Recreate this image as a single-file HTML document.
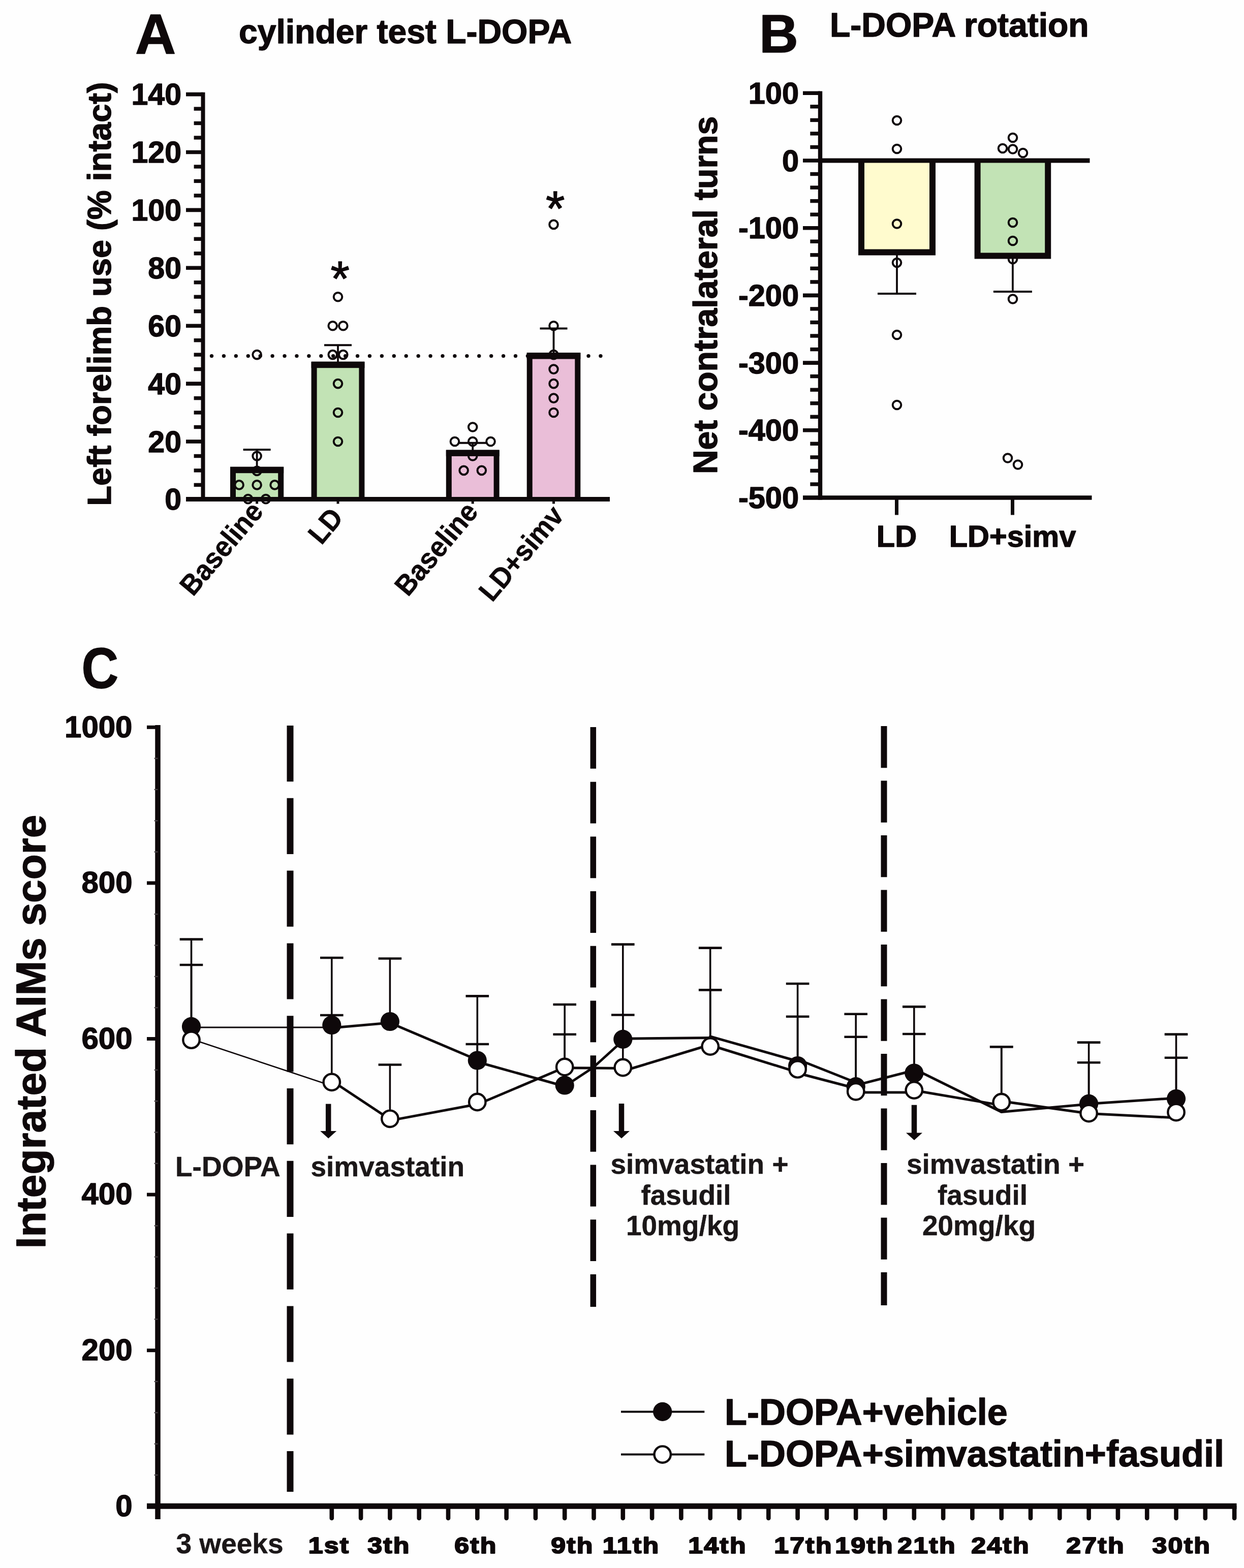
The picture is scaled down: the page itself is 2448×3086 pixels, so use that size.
<!DOCTYPE html>
<html lang="en">
<head>
<meta charset="utf-8">
<title>Figure: cylinder test, L-DOPA rotation, integrated AIMs score</title>
<style>
html,body{margin:0;padding:0;background:#fefefe;}
body{width:2448px;height:3086px;overflow:hidden;}
svg{display:block;}
svg text{font-family:"Liberation Sans",Arial,Helvetica,sans-serif;font-weight:bold;fill:#0e080a;stroke:#0e080a;stroke-width:1.4px;stroke-linejoin:round;}
svg text.ns{stroke-width:0.6px;}
svg text.ast{font-weight:normal;stroke-width:1.4px;}
svg text.hv{stroke-width:2.2px;letter-spacing:2px;}
svg text.an{fill:#1b1718;stroke:#1b1718;stroke-width:0.5px;}
svg line, svg polyline{stroke:#0e080a;}
svg .bb{fill:none;stroke:#0e080a;}
svg polyline.ser{fill:none;stroke-width:5;stroke-linejoin:round;}
svg circle.pt{fill:none;stroke:#0e080a;stroke-width:4;}
svg circle.fm{fill:#0e080a;stroke:none;}
svg circle.om{fill:#fff;stroke:#0e080a;stroke-width:4.4;}
</style>
</head>
<body>
<svg width="2448" height="3086" viewBox="0 0 2448 3086">
<rect x="0" y="0" width="2448" height="3086" fill="#fefefe" stroke="none"/>
<g id="panelA">
<text x="266" y="106" font-size="111">A</text>
<text x="470" y="84.5" font-size="66">cylinder test L-DOPA</text>
<text transform="translate(218,578.5) rotate(-90)" font-size="65" text-anchor="middle">Left forelimb use (% intact)</text>
<rect x="458.5" y="924.1" width="94.2" height="58.4" fill="#c2e3b5" stroke="none"/>
<rect x="618.1" y="717.1" width="93.8" height="265.4" fill="#c2e3b5" stroke="none"/>
<rect x="883.3" y="890.8" width="93.8" height="91.7" fill="#eabed8" stroke="none"/>
<rect x="1042.2" y="699.5" width="94.6" height="283" fill="#eabed8" stroke="none"/>
<circle cx="505.6" cy="698.1" r="8.3" class="pt"/>
<circle cx="505.6" cy="897.5" r="8.3" class="pt"/>
<circle cx="505.6" cy="926.9" r="8.3" class="pt"/>
<circle cx="470.6" cy="954.4" r="8.3" class="pt"/>
<circle cx="505.6" cy="954.4" r="8.3" class="pt"/>
<circle cx="540.6" cy="954.4" r="8.3" class="pt"/>
<circle cx="488.1" cy="982.1" r="8.3" class="pt"/>
<circle cx="523.1" cy="982.1" r="8.3" class="pt"/>
<circle cx="665" cy="584.2" r="8.3" class="pt"/>
<circle cx="654.7" cy="641.2" r="8.3" class="pt"/>
<circle cx="675.3" cy="641.2" r="8.3" class="pt"/>
<circle cx="654.7" cy="698.1" r="8.3" class="pt"/>
<circle cx="675.3" cy="698.1" r="8.3" class="pt"/>
<circle cx="665" cy="755.1" r="8.3" class="pt"/>
<circle cx="665" cy="812" r="8.3" class="pt"/>
<circle cx="665" cy="869" r="8.3" class="pt"/>
<circle cx="930.2" cy="840.5" r="8.3" class="pt"/>
<circle cx="894.9" cy="869" r="8.3" class="pt"/>
<circle cx="930.2" cy="869" r="8.3" class="pt"/>
<circle cx="965.5" cy="869" r="8.3" class="pt"/>
<circle cx="930.2" cy="897.5" r="8.3" class="pt"/>
<circle cx="912.6" cy="925.9" r="8.3" class="pt"/>
<circle cx="947.8" cy="925.9" r="8.3" class="pt"/>
<circle cx="1089.5" cy="441.9" r="8.3" class="pt"/>
<circle cx="1089.5" cy="641.2" r="8.3" class="pt"/>
<circle cx="1089.5" cy="698.1" r="8.3" class="pt"/>
<circle cx="1089.5" cy="726.6" r="8.3" class="pt"/>
<circle cx="1089.5" cy="755.1" r="8.3" class="pt"/>
<circle cx="1089.5" cy="783.6" r="8.3" class="pt"/>
<circle cx="1089.5" cy="812" r="8.3" class="pt"/>
<line x1="416.5" y1="700.6" x2="1184" y2="700.6" stroke-width="7.4" stroke-dasharray="0 23.92" stroke-linecap="round"/>
<polyline class="bb" stroke-width="11" points="458.5,982.5 458.5,924.9 552.7,924.9 552.7,982.5"/>
<rect x="453" y="918.6" width="105.2" height="12.6" fill="#0e080a" stroke="none"/>
<line x1="505.6" y1="920.6" x2="505.6" y2="885" stroke-width="3.8"/>
<line x1="478.6" y1="885" x2="532.6" y2="885" stroke-width="4"/>
<polyline class="bb" stroke-width="11" points="618.1,982.5 618.1,717.9 711.9,717.9 711.9,982.5"/>
<rect x="612.6" y="711.6" width="104.8" height="12.6" fill="#0e080a" stroke="none"/>
<line x1="665" y1="713.6" x2="665" y2="679.3" stroke-width="3.8"/>
<line x1="638" y1="679.3" x2="692" y2="679.3" stroke-width="4"/>
<polyline class="bb" stroke-width="11" points="883.3,982.5 883.3,891.6 977.1,891.6 977.1,982.5"/>
<rect x="877.8" y="885.3" width="104.8" height="12.6" fill="#0e080a" stroke="none"/>
<line x1="930.2" y1="887.3" x2="930.2" y2="871.8" stroke-width="3.8"/>
<line x1="903.2" y1="871.8" x2="957.2" y2="871.8" stroke-width="4"/>
<polyline class="bb" stroke-width="11" points="1042.2,982.5 1042.2,700.3 1136.8,700.3 1136.8,982.5"/>
<rect x="1036.7" y="694" width="105.6" height="12.6" fill="#0e080a" stroke="none"/>
<line x1="1089.5" y1="696" x2="1089.5" y2="646.5" stroke-width="3.8"/>
<line x1="1062.5" y1="646.5" x2="1116.5" y2="646.5" stroke-width="4"/>
<line x1="399.5" y1="181.8" x2="399.5" y2="986.9" stroke-width="8"/>
<line x1="366" y1="982.5" x2="1200" y2="982.5" stroke-width="8.8"/>
<line x1="366" y1="982.9" x2="399.5" y2="982.9" stroke-width="7.6"/>
<line x1="381.6" y1="954.4" x2="399.5" y2="954.4" stroke-width="7.4"/>
<line x1="381.6" y1="925.9" x2="399.5" y2="925.9" stroke-width="7.4"/>
<line x1="381.6" y1="897.5" x2="399.5" y2="897.5" stroke-width="7.4"/>
<line x1="366" y1="869" x2="399.5" y2="869" stroke-width="7.6"/>
<line x1="381.6" y1="840.5" x2="399.5" y2="840.5" stroke-width="7.4"/>
<line x1="381.6" y1="812" x2="399.5" y2="812" stroke-width="7.4"/>
<line x1="381.6" y1="783.6" x2="399.5" y2="783.6" stroke-width="7.4"/>
<line x1="366" y1="755.1" x2="399.5" y2="755.1" stroke-width="7.6"/>
<line x1="381.6" y1="726.6" x2="399.5" y2="726.6" stroke-width="7.4"/>
<line x1="381.6" y1="698.1" x2="399.5" y2="698.1" stroke-width="7.4"/>
<line x1="381.6" y1="669.7" x2="399.5" y2="669.7" stroke-width="7.4"/>
<line x1="366" y1="641.2" x2="399.5" y2="641.2" stroke-width="7.6"/>
<line x1="381.6" y1="612.7" x2="399.5" y2="612.7" stroke-width="7.4"/>
<line x1="381.6" y1="584.2" x2="399.5" y2="584.2" stroke-width="7.4"/>
<line x1="381.6" y1="555.8" x2="399.5" y2="555.8" stroke-width="7.4"/>
<line x1="366" y1="527.3" x2="399.5" y2="527.3" stroke-width="7.6"/>
<line x1="381.6" y1="498.8" x2="399.5" y2="498.8" stroke-width="7.4"/>
<line x1="381.6" y1="470.3" x2="399.5" y2="470.3" stroke-width="7.4"/>
<line x1="381.6" y1="441.9" x2="399.5" y2="441.9" stroke-width="7.4"/>
<line x1="366" y1="413.4" x2="399.5" y2="413.4" stroke-width="7.6"/>
<line x1="381.6" y1="384.9" x2="399.5" y2="384.9" stroke-width="7.4"/>
<line x1="381.6" y1="356.4" x2="399.5" y2="356.4" stroke-width="7.4"/>
<line x1="381.6" y1="328" x2="399.5" y2="328" stroke-width="7.4"/>
<line x1="366" y1="299.5" x2="399.5" y2="299.5" stroke-width="7.6"/>
<line x1="381.6" y1="271" x2="399.5" y2="271" stroke-width="7.4"/>
<line x1="381.6" y1="242.5" x2="399.5" y2="242.5" stroke-width="7.4"/>
<line x1="381.6" y1="214.1" x2="399.5" y2="214.1" stroke-width="7.4"/>
<line x1="366" y1="185.6" x2="399.5" y2="185.6" stroke-width="7.6"/>
<text x="357" y="1003.4" font-size="59" text-anchor="end">0</text>
<text x="357" y="889.5" font-size="59" text-anchor="end">20</text>
<text x="357" y="775.6" font-size="59" text-anchor="end">40</text>
<text x="357" y="661.7" font-size="59" text-anchor="end">60</text>
<text x="357" y="547.8" font-size="59" text-anchor="end">80</text>
<text x="357" y="433.9" font-size="59" text-anchor="end">100</text>
<text x="357" y="320" font-size="59" text-anchor="end">120</text>
<text x="357" y="206.1" font-size="59" text-anchor="end">140</text>
<line x1="505.6" y1="982.5" x2="505.6" y2="991.5" stroke-width="5"/>
<line x1="665" y1="982.5" x2="665" y2="991.5" stroke-width="5"/>
<line x1="930.2" y1="982.5" x2="930.2" y2="991.5" stroke-width="5"/>
<line x1="1089.5" y1="982.5" x2="1089.5" y2="991.5" stroke-width="5"/>
<text x="669.1" y="580.8" font-size="96" text-anchor="middle" class="ast">*</text>
<text x="1092.8" y="443.2" font-size="96" text-anchor="middle" class="ast">*</text>
<text transform="translate(520.5,1008) rotate(-50) scale(0.95,1)" font-size="56" text-anchor="end" class="ns">Baseline</text>
<text transform="translate(678,1020) rotate(-50) scale(0.95,1)" font-size="56" text-anchor="end" class="ns">LD</text>
<text transform="translate(943.3,1008.5) rotate(-50) scale(0.95,1)" font-size="56" text-anchor="end" class="ns">Baseline</text>
<text transform="translate(1112,1015.8) rotate(-50) scale(0.95,1)" font-size="56" text-anchor="end" class="ns">LD+simv</text>
</g>
<g id="panelB">
<text x="1494" y="102.5" font-size="106.5">B</text>
<text x="1633" y="71.5" font-size="66">L-DOPA rotation</text>
<text transform="translate(1411.3,581) rotate(-90)" font-size="66" text-anchor="middle">Net contralateral turns</text>
<rect x="1695" y="316" width="140" height="180.6" fill="#fffbce" stroke="none"/>
<rect x="1923.6" y="316" width="138.6" height="187.5" fill="#c2e3b5" stroke="none"/>
<circle cx="1765" cy="237" r="8.3" class="pt"/>
<circle cx="1765" cy="293" r="8.3" class="pt"/>
<circle cx="1765" cy="440.5" r="8.3" class="pt"/>
<circle cx="1765" cy="517" r="8.3" class="pt"/>
<circle cx="1765" cy="659" r="8.3" class="pt"/>
<circle cx="1765" cy="797" r="8.3" class="pt"/>
<circle cx="1993" cy="271" r="8.3" class="pt"/>
<circle cx="1973" cy="292" r="8.3" class="pt"/>
<circle cx="1993" cy="293.5" r="8.3" class="pt"/>
<circle cx="2013" cy="301" r="8.3" class="pt"/>
<circle cx="1993" cy="438" r="8.3" class="pt"/>
<circle cx="1993" cy="474" r="8.3" class="pt"/>
<circle cx="1993" cy="510" r="8.3" class="pt"/>
<circle cx="1993" cy="588.5" r="8.3" class="pt"/>
<circle cx="1983" cy="901.5" r="8.3" class="pt"/>
<circle cx="2003" cy="914.5" r="8.3" class="pt"/>
<polyline class="bb" stroke-width="12" points="1695,316 1695,496.6 1835,496.6 1835,316"/>
<line x1="1765" y1="500.6" x2="1765" y2="578" stroke-width="3.8"/>
<line x1="1727" y1="578" x2="1803" y2="578" stroke-width="4"/>
<polyline class="bb" stroke-width="12" points="1923.6,316 1923.6,503.5 2062.2,503.5 2062.2,316"/>
<line x1="1992.9" y1="507.5" x2="1992.9" y2="574" stroke-width="3.8"/>
<line x1="1954.9" y1="574" x2="2030.9" y2="574" stroke-width="4"/>
<line x1="1614" y1="179.5" x2="1614" y2="983.7" stroke-width="8.4"/>
<line x1="1614" y1="316" x2="2144.5" y2="316" stroke-width="9"/>
<line x1="1580" y1="979.5" x2="2148.5" y2="979.5" stroke-width="8.4"/>
<line x1="1580" y1="979.5" x2="1614" y2="979.5" stroke-width="7.6"/>
<line x1="1594.3" y1="953" x2="1614" y2="953" stroke-width="7.4"/>
<line x1="1594.3" y1="926.4" x2="1614" y2="926.4" stroke-width="7.4"/>
<line x1="1594.3" y1="899.9" x2="1614" y2="899.9" stroke-width="7.4"/>
<line x1="1594.3" y1="873.3" x2="1614" y2="873.3" stroke-width="7.4"/>
<line x1="1580" y1="846.8" x2="1614" y2="846.8" stroke-width="7.6"/>
<line x1="1594.3" y1="820.3" x2="1614" y2="820.3" stroke-width="7.4"/>
<line x1="1594.3" y1="793.7" x2="1614" y2="793.7" stroke-width="7.4"/>
<line x1="1594.3" y1="767.2" x2="1614" y2="767.2" stroke-width="7.4"/>
<line x1="1594.3" y1="740.6" x2="1614" y2="740.6" stroke-width="7.4"/>
<line x1="1580" y1="714.1" x2="1614" y2="714.1" stroke-width="7.6"/>
<line x1="1594.3" y1="687.6" x2="1614" y2="687.6" stroke-width="7.4"/>
<line x1="1594.3" y1="661" x2="1614" y2="661" stroke-width="7.4"/>
<line x1="1594.3" y1="634.5" x2="1614" y2="634.5" stroke-width="7.4"/>
<line x1="1594.3" y1="607.9" x2="1614" y2="607.9" stroke-width="7.4"/>
<line x1="1580" y1="581.4" x2="1614" y2="581.4" stroke-width="7.6"/>
<line x1="1594.3" y1="554.9" x2="1614" y2="554.9" stroke-width="7.4"/>
<line x1="1594.3" y1="528.3" x2="1614" y2="528.3" stroke-width="7.4"/>
<line x1="1594.3" y1="501.8" x2="1614" y2="501.8" stroke-width="7.4"/>
<line x1="1594.3" y1="475.2" x2="1614" y2="475.2" stroke-width="7.4"/>
<line x1="1580" y1="448.7" x2="1614" y2="448.7" stroke-width="7.6"/>
<line x1="1594.3" y1="422.2" x2="1614" y2="422.2" stroke-width="7.4"/>
<line x1="1594.3" y1="395.6" x2="1614" y2="395.6" stroke-width="7.4"/>
<line x1="1594.3" y1="369.1" x2="1614" y2="369.1" stroke-width="7.4"/>
<line x1="1594.3" y1="342.5" x2="1614" y2="342.5" stroke-width="7.4"/>
<line x1="1580" y1="316" x2="1614" y2="316" stroke-width="7.6"/>
<line x1="1594.3" y1="289.5" x2="1614" y2="289.5" stroke-width="7.4"/>
<line x1="1594.3" y1="262.9" x2="1614" y2="262.9" stroke-width="7.4"/>
<line x1="1594.3" y1="236.4" x2="1614" y2="236.4" stroke-width="7.4"/>
<line x1="1594.3" y1="209.8" x2="1614" y2="209.8" stroke-width="7.4"/>
<line x1="1580" y1="183.3" x2="1614" y2="183.3" stroke-width="7.6"/>
<text x="1572" y="1000" font-size="59.5" text-anchor="end">-500</text>
<text x="1572" y="867.3" font-size="59.5" text-anchor="end">-400</text>
<text x="1572" y="734.6" font-size="59.5" text-anchor="end">-300</text>
<text x="1572" y="601.9" font-size="59.5" text-anchor="end">-200</text>
<text x="1572" y="469.2" font-size="59.5" text-anchor="end">-100</text>
<text x="1572" y="336.5" font-size="59.5" text-anchor="end">0</text>
<text x="1572" y="203.8" font-size="59.5" text-anchor="end">100</text>
<line x1="1764.5" y1="979.5" x2="1764.5" y2="1013.5" stroke-width="7"/>
<text x="1764.5" y="1076" font-size="59.5" text-anchor="middle">LD</text>
<line x1="1992.5" y1="979.5" x2="1992.5" y2="1013.5" stroke-width="7"/>
<text x="1992.5" y="1076" font-size="59.5" text-anchor="middle">LD+simv</text>
</g>
<g id="panelC">
<text transform="translate(160.5,1353.5) scale(0.89,1)" font-size="113">C</text>
<text transform="translate(89.3,2030.5) rotate(-90)" font-size="82" text-anchor="middle">Integrated AIMs score</text>
<line x1="571" y1="1428" x2="571" y2="2936" stroke-width="13" stroke-dasharray="110.2 32.6"/>
<line x1="1167.3" y1="1431" x2="1167.3" y2="2572" stroke-width="11.5" stroke-dasharray="81.8 25.9"/>
<line x1="1739.5" y1="1429" x2="1739.5" y2="2569" stroke-width="12" stroke-dasharray="82.3 25.2"/>
<line x1="310.5" y1="1427" x2="310.5" y2="2990" stroke-width="10.5"/>
<line x1="289" y1="2964.3" x2="2433.5" y2="2964.3" stroke-width="11"/>
<line x1="289" y1="2964.3" x2="310.5" y2="2964.3" stroke-width="7"/>
<line x1="303.5" y1="2903" x2="310.5" y2="2903" stroke-width="2.2" style="stroke:#4a4447"/>
<line x1="303.5" y1="2841.7" x2="310.5" y2="2841.7" stroke-width="2.2" style="stroke:#4a4447"/>
<line x1="303.5" y1="2780.3" x2="310.5" y2="2780.3" stroke-width="2.2" style="stroke:#4a4447"/>
<line x1="303.5" y1="2719" x2="310.5" y2="2719" stroke-width="2.2" style="stroke:#4a4447"/>
<line x1="289" y1="2657.7" x2="310.5" y2="2657.7" stroke-width="7"/>
<line x1="303.5" y1="2596.4" x2="310.5" y2="2596.4" stroke-width="2.2" style="stroke:#4a4447"/>
<line x1="303.5" y1="2535.1" x2="310.5" y2="2535.1" stroke-width="2.2" style="stroke:#4a4447"/>
<line x1="303.5" y1="2473.7" x2="310.5" y2="2473.7" stroke-width="2.2" style="stroke:#4a4447"/>
<line x1="303.5" y1="2412.4" x2="310.5" y2="2412.4" stroke-width="2.2" style="stroke:#4a4447"/>
<line x1="289" y1="2351.1" x2="310.5" y2="2351.1" stroke-width="7"/>
<line x1="303.5" y1="2289.8" x2="310.5" y2="2289.8" stroke-width="2.2" style="stroke:#4a4447"/>
<line x1="303.5" y1="2228.5" x2="310.5" y2="2228.5" stroke-width="2.2" style="stroke:#4a4447"/>
<line x1="303.5" y1="2167.1" x2="310.5" y2="2167.1" stroke-width="2.2" style="stroke:#4a4447"/>
<line x1="303.5" y1="2105.8" x2="310.5" y2="2105.8" stroke-width="2.2" style="stroke:#4a4447"/>
<line x1="289" y1="2044.5" x2="310.5" y2="2044.5" stroke-width="7"/>
<line x1="303.5" y1="1983.2" x2="310.5" y2="1983.2" stroke-width="2.2" style="stroke:#4a4447"/>
<line x1="303.5" y1="1921.9" x2="310.5" y2="1921.9" stroke-width="2.2" style="stroke:#4a4447"/>
<line x1="303.5" y1="1860.5" x2="310.5" y2="1860.5" stroke-width="2.2" style="stroke:#4a4447"/>
<line x1="303.5" y1="1799.2" x2="310.5" y2="1799.2" stroke-width="2.2" style="stroke:#4a4447"/>
<line x1="289" y1="1737.9" x2="310.5" y2="1737.9" stroke-width="7"/>
<line x1="303.5" y1="1676.6" x2="310.5" y2="1676.6" stroke-width="2.2" style="stroke:#4a4447"/>
<line x1="303.5" y1="1615.3" x2="310.5" y2="1615.3" stroke-width="2.2" style="stroke:#4a4447"/>
<line x1="303.5" y1="1553.9" x2="310.5" y2="1553.9" stroke-width="2.2" style="stroke:#4a4447"/>
<line x1="303.5" y1="1492.6" x2="310.5" y2="1492.6" stroke-width="2.2" style="stroke:#4a4447"/>
<line x1="289" y1="1431.3" x2="310.5" y2="1431.3" stroke-width="7"/>
<text x="260.5" y="2983.6" font-size="60" text-anchor="end">0</text>
<text x="260.5" y="2677" font-size="60" text-anchor="end">200</text>
<text x="260.5" y="2370.4" font-size="60" text-anchor="end">400</text>
<text x="260.5" y="2063.8" font-size="60" text-anchor="end">600</text>
<text x="260.5" y="1757.2" font-size="60" text-anchor="end">800</text>
<text x="260.5" y="1450.6" font-size="60" text-anchor="end">1000</text>
<line x1="652.8" y1="2964.3" x2="652.8" y2="2988" stroke-width="8.6" stroke-linecap="round"/>
<line x1="710.1" y1="2964.3" x2="710.1" y2="2988" stroke-width="8.6" stroke-linecap="round"/>
<line x1="767.4" y1="2964.3" x2="767.4" y2="2988" stroke-width="8.6" stroke-linecap="round"/>
<line x1="824.7" y1="2964.3" x2="824.7" y2="2988" stroke-width="8.6" stroke-linecap="round"/>
<line x1="882" y1="2964.3" x2="882" y2="2988" stroke-width="8.6" stroke-linecap="round"/>
<line x1="939.3" y1="2964.3" x2="939.3" y2="2988" stroke-width="8.6" stroke-linecap="round"/>
<line x1="996.6" y1="2964.3" x2="996.6" y2="2988" stroke-width="8.6" stroke-linecap="round"/>
<line x1="1053.9" y1="2964.3" x2="1053.9" y2="2988" stroke-width="8.6" stroke-linecap="round"/>
<line x1="1111.2" y1="2964.3" x2="1111.2" y2="2988" stroke-width="8.6" stroke-linecap="round"/>
<line x1="1168.5" y1="2964.3" x2="1168.5" y2="2988" stroke-width="8.6" stroke-linecap="round"/>
<line x1="1225.8" y1="2964.3" x2="1225.8" y2="2988" stroke-width="8.6" stroke-linecap="round"/>
<line x1="1283.1" y1="2964.3" x2="1283.1" y2="2988" stroke-width="8.6" stroke-linecap="round"/>
<line x1="1340.4" y1="2964.3" x2="1340.4" y2="2988" stroke-width="8.6" stroke-linecap="round"/>
<line x1="1397.7" y1="2964.3" x2="1397.7" y2="2988" stroke-width="8.6" stroke-linecap="round"/>
<line x1="1455" y1="2964.3" x2="1455" y2="2988" stroke-width="8.6" stroke-linecap="round"/>
<line x1="1512.3" y1="2964.3" x2="1512.3" y2="2988" stroke-width="8.6" stroke-linecap="round"/>
<line x1="1569.6" y1="2964.3" x2="1569.6" y2="2988" stroke-width="8.6" stroke-linecap="round"/>
<line x1="1626.9" y1="2964.3" x2="1626.9" y2="2988" stroke-width="8.6" stroke-linecap="round"/>
<line x1="1684.2" y1="2964.3" x2="1684.2" y2="2988" stroke-width="8.6" stroke-linecap="round"/>
<line x1="1741.5" y1="2964.3" x2="1741.5" y2="2988" stroke-width="8.6" stroke-linecap="round"/>
<line x1="1798.8" y1="2964.3" x2="1798.8" y2="2988" stroke-width="8.6" stroke-linecap="round"/>
<line x1="1856.1" y1="2964.3" x2="1856.1" y2="2988" stroke-width="8.6" stroke-linecap="round"/>
<line x1="1913.4" y1="2964.3" x2="1913.4" y2="2988" stroke-width="8.6" stroke-linecap="round"/>
<line x1="1970.7" y1="2964.3" x2="1970.7" y2="2988" stroke-width="8.6" stroke-linecap="round"/>
<line x1="2028" y1="2964.3" x2="2028" y2="2988" stroke-width="8.6" stroke-linecap="round"/>
<line x1="2085.3" y1="2964.3" x2="2085.3" y2="2988" stroke-width="8.6" stroke-linecap="round"/>
<line x1="2142.6" y1="2964.3" x2="2142.6" y2="2988" stroke-width="8.6" stroke-linecap="round"/>
<line x1="2199.9" y1="2964.3" x2="2199.9" y2="2988" stroke-width="8.6" stroke-linecap="round"/>
<line x1="2257.2" y1="2964.3" x2="2257.2" y2="2988" stroke-width="8.6" stroke-linecap="round"/>
<line x1="2314.5" y1="2964.3" x2="2314.5" y2="2988" stroke-width="8.6" stroke-linecap="round"/>
<line x1="2371.8" y1="2964.3" x2="2371.8" y2="2988" stroke-width="8.6" stroke-linecap="round"/>
<line x1="2429.1" y1="2964.3" x2="2429.1" y2="2988" stroke-width="8.6" stroke-linecap="round"/>
<line x1="376.5" y1="2020.4" x2="376.5" y2="1848.6" stroke-width="3.6"/>
<line x1="376.5" y1="2046.7" x2="376.5" y2="1899" stroke-width="3.6"/>
<line x1="353.7" y1="1848.6" x2="399.3" y2="1848.6" stroke-width="4.6"/>
<line x1="353.7" y1="1899" x2="399.3" y2="1899" stroke-width="4.6"/>
<line x1="652.8" y1="2017.5" x2="652.8" y2="1885" stroke-width="3.6"/>
<line x1="652.8" y1="2129.8" x2="652.8" y2="1998" stroke-width="3.6"/>
<line x1="630" y1="1885" x2="675.6" y2="1885" stroke-width="4.6"/>
<line x1="630" y1="1998" x2="675.6" y2="1998" stroke-width="4.6"/>
<line x1="767.4" y1="2010.5" x2="767.4" y2="1886.5" stroke-width="3.6"/>
<line x1="767.4" y1="2201.8" x2="767.4" y2="2095.5" stroke-width="3.6"/>
<line x1="744.6" y1="1886.5" x2="790.2" y2="1886.5" stroke-width="4.6"/>
<line x1="744.6" y1="2095.5" x2="790.2" y2="2095.5" stroke-width="4.6"/>
<line x1="939.3" y1="2087" x2="939.3" y2="1960.4" stroke-width="3.6"/>
<line x1="939.3" y1="2169" x2="939.3" y2="2055" stroke-width="3.6"/>
<line x1="916.5" y1="1960.4" x2="962.1" y2="1960.4" stroke-width="4.6"/>
<line x1="916.5" y1="2055" x2="962.1" y2="2055" stroke-width="4.6"/>
<line x1="1111.2" y1="2136" x2="1111.2" y2="1977" stroke-width="3.6"/>
<line x1="1111.2" y1="2100" x2="1111.2" y2="2035.8" stroke-width="3.6"/>
<line x1="1088.4" y1="1977" x2="1134" y2="1977" stroke-width="4.6"/>
<line x1="1088.4" y1="2035.8" x2="1134" y2="2035.8" stroke-width="4.6"/>
<line x1="1225.8" y1="2045.4" x2="1225.8" y2="1858.6" stroke-width="3.6"/>
<line x1="1225.8" y1="2101" x2="1225.8" y2="1997.5" stroke-width="3.6"/>
<line x1="1203" y1="1858.6" x2="1248.6" y2="1858.6" stroke-width="4.6"/>
<line x1="1203" y1="1997.5" x2="1248.6" y2="1997.5" stroke-width="4.6"/>
<line x1="1397.7" y1="2041" x2="1397.7" y2="1865.6" stroke-width="3.6"/>
<line x1="1397.7" y1="2059.6" x2="1397.7" y2="1948.4" stroke-width="3.6"/>
<line x1="1374.9" y1="1865.6" x2="1420.5" y2="1865.6" stroke-width="4.6"/>
<line x1="1374.9" y1="1948.4" x2="1420.5" y2="1948.4" stroke-width="4.6"/>
<line x1="1569.6" y1="2097.5" x2="1569.6" y2="1936" stroke-width="3.6"/>
<line x1="1569.6" y1="2104.4" x2="1569.6" y2="2000.7" stroke-width="3.6"/>
<line x1="1546.8" y1="1936" x2="1592.4" y2="1936" stroke-width="4.6"/>
<line x1="1546.8" y1="2000.7" x2="1592.4" y2="2000.7" stroke-width="4.6"/>
<line x1="1684.2" y1="2138.7" x2="1684.2" y2="1995.8" stroke-width="3.6"/>
<line x1="1684.2" y1="2148.3" x2="1684.2" y2="2040.7" stroke-width="3.6"/>
<line x1="1661.4" y1="1995.8" x2="1707" y2="1995.8" stroke-width="4.6"/>
<line x1="1661.4" y1="2040.7" x2="1707" y2="2040.7" stroke-width="4.6"/>
<line x1="1798.8" y1="2112" x2="1798.8" y2="1981.4" stroke-width="3.6"/>
<line x1="1798.8" y1="2145.6" x2="1798.8" y2="2035" stroke-width="3.6"/>
<line x1="1776" y1="1981.4" x2="1821.6" y2="1981.4" stroke-width="4.6"/>
<line x1="1776" y1="2035" x2="1821.6" y2="2035" stroke-width="4.6"/>
<line x1="1970.7" y1="2188" x2="1970.7" y2="2060.3" stroke-width="3.6"/>
<line x1="1970.7" y1="2169.2" x2="1970.7" y2="2060.3" stroke-width="3.6"/>
<line x1="1947.9" y1="2060.3" x2="1993.5" y2="2060.3" stroke-width="4.6"/>
<line x1="1947.9" y1="2060.3" x2="1993.5" y2="2060.3" stroke-width="4.6"/>
<line x1="2142.6" y1="2172.4" x2="2142.6" y2="2051.6" stroke-width="3.6"/>
<line x1="2142.6" y1="2191" x2="2142.6" y2="2091.3" stroke-width="3.6"/>
<line x1="2119.8" y1="2051.6" x2="2165.4" y2="2051.6" stroke-width="4.6"/>
<line x1="2119.8" y1="2091.3" x2="2165.4" y2="2091.3" stroke-width="4.6"/>
<line x1="2314.5" y1="2162.5" x2="2314.5" y2="2035.6" stroke-width="3.6"/>
<line x1="2314.5" y1="2189" x2="2314.5" y2="2081.7" stroke-width="3.6"/>
<line x1="2291.7" y1="2035.6" x2="2337.3" y2="2035.6" stroke-width="4.6"/>
<line x1="2291.7" y1="2081.7" x2="2337.3" y2="2081.7" stroke-width="4.6"/>
<line x1="376.5" y1="2022" x2="652.8" y2="2022" stroke-width="3"/>
<line x1="652.8" y1="2023" x2="767.4" y2="2013" stroke-width="5" stroke-linecap="round"/>
<line x1="767.4" y1="2013" x2="939.3" y2="2086" stroke-width="5" stroke-linecap="round"/>
<line x1="939.3" y1="2090" x2="1111.2" y2="2138" stroke-width="5" stroke-linecap="round"/>
<line x1="1111.2" y1="2138" x2="1167.3" y2="2101" stroke-width="5" stroke-linecap="round"/>
<line x1="1167.3" y1="2101" x2="1225.8" y2="2048" stroke-width="5" stroke-linecap="round"/>
<line x1="1225.8" y1="2044.3" x2="1397.7" y2="2042.5" stroke-width="5" stroke-linecap="round"/>
<line x1="1397.7" y1="2039.8" x2="1569.6" y2="2088.5" stroke-width="5" stroke-linecap="round"/>
<line x1="1569.6" y1="2085" x2="1684.2" y2="2130.5" stroke-width="5" stroke-linecap="round"/>
<line x1="1684.2" y1="2135.8" x2="1798.8" y2="2106.6" stroke-width="5" stroke-linecap="round"/>
<line x1="1798.8" y1="2103.7" x2="1970.7" y2="2188.5" stroke-width="5" stroke-linecap="round"/>
<line x1="1970.7" y1="2188.5" x2="2142.6" y2="2173" stroke-width="5" stroke-linecap="round"/>
<line x1="2142.6" y1="2172.4" x2="2314.5" y2="2161" stroke-width="5" stroke-linecap="round"/>
<circle cx="376.5" cy="2020.4" r="18.6" class="fm"/>
<circle cx="652.8" cy="2017.5" r="18.6" class="fm"/>
<circle cx="767.4" cy="2010.5" r="18.6" class="fm"/>
<circle cx="939.3" cy="2087" r="18.6" class="fm"/>
<circle cx="1111.2" cy="2136" r="18.6" class="fm"/>
<circle cx="1225.8" cy="2045.4" r="18.6" class="fm"/>
<circle cx="1569.6" cy="2097.5" r="18.6" class="fm"/>
<circle cx="1684.2" cy="2138.7" r="18.6" class="fm"/>
<circle cx="1798.8" cy="2112" r="18.6" class="fm"/>
<circle cx="2142.6" cy="2172.4" r="18.6" class="fm"/>
<circle cx="2314.5" cy="2162.5" r="18.6" class="fm"/>
<line x1="376.5" y1="2045" x2="652.8" y2="2137" stroke-width="2.6"/>
<line x1="652.8" y1="2127" x2="767.4" y2="2203" stroke-width="5" stroke-linecap="round"/>
<line x1="767.4" y1="2205.4" x2="939.3" y2="2173.2" stroke-width="5" stroke-linecap="round"/>
<line x1="939.3" y1="2173.8" x2="1111.2" y2="2100.8" stroke-width="5" stroke-linecap="round"/>
<line x1="1111.2" y1="2101.8" x2="1167.3" y2="2102" stroke-width="5" stroke-linecap="round"/>
<line x1="1167.3" y1="2102" x2="1225.8" y2="2102.4" stroke-width="5" stroke-linecap="round"/>
<line x1="1225.8" y1="2108" x2="1397.7" y2="2056" stroke-width="5" stroke-linecap="round"/>
<line x1="1397.7" y1="2057" x2="1569.6" y2="2110.4" stroke-width="5" stroke-linecap="round"/>
<line x1="1569.6" y1="2112" x2="1684.2" y2="2142" stroke-width="5" stroke-linecap="round"/>
<line x1="1684.2" y1="2150" x2="1798.8" y2="2150" stroke-width="5" stroke-linecap="round"/>
<line x1="1798.8" y1="2146" x2="1970.7" y2="2175.4" stroke-width="5" stroke-linecap="round"/>
<line x1="1970.7" y1="2167.2" x2="2142.6" y2="2191.5" stroke-width="5" stroke-linecap="round"/>
<line x1="2142.6" y1="2191.5" x2="2314.5" y2="2200" stroke-width="5" stroke-linecap="round"/>
<circle cx="376.5" cy="2046.7" r="16.2" class="om"/>
<circle cx="652.8" cy="2129.8" r="16.2" class="om"/>
<circle cx="767.4" cy="2201.8" r="16.2" class="om"/>
<circle cx="939.3" cy="2169" r="16.2" class="om"/>
<circle cx="1111.2" cy="2100" r="16.2" class="om"/>
<circle cx="1225.8" cy="2101" r="16.2" class="om"/>
<circle cx="1397.7" cy="2059.6" r="16.2" class="om"/>
<circle cx="1569.6" cy="2104.4" r="16.2" class="om"/>
<circle cx="1684.2" cy="2148.3" r="16.2" class="om"/>
<circle cx="1798.8" cy="2145.6" r="16.2" class="om"/>
<circle cx="1970.7" cy="2169.2" r="16.2" class="om"/>
<circle cx="2142.6" cy="2191" r="16.2" class="om"/>
<circle cx="2314.5" cy="2189" r="16.2" class="om"/>
<line x1="646.2" y1="2172.6" x2="646.2" y2="2228.5" stroke-width="10.5"/>
<polygon points="630.2,2226 662.2,2226 646.2,2240.5" fill="#0e080a" stroke="none"/>
<line x1="1223" y1="2172" x2="1223" y2="2228.5" stroke-width="10.5"/>
<polygon points="1207,2226 1239,2226 1223,2240.5" fill="#0e080a" stroke="none"/>
<line x1="1799" y1="2174.7" x2="1799" y2="2232" stroke-width="10.5"/>
<polygon points="1783,2229.5 1815,2229.5 1799,2244" fill="#0e080a" stroke="none"/>
<text x="345" y="2315" font-size="55" class="an">L-DOPA</text>
<text x="611.5" y="2315" font-size="55" class="an">simvastatin</text>
<text x="1376.5" y="2310" font-size="55" text-anchor="middle" class="an">simvastatin +</text>
<text x="1350" y="2370.7" font-size="55" text-anchor="middle" class="an">fasudil</text>
<text x="1343.5" y="2431.1" font-size="55" text-anchor="middle" class="an">10mg/kg</text>
<text x="1959" y="2310" font-size="55" text-anchor="middle" class="an">simvastatin +</text>
<text x="1933.5" y="2370.7" font-size="55" text-anchor="middle" class="an">fasudil</text>
<text x="1926.5" y="2431.1" font-size="55" text-anchor="middle" class="an">20mg/kg</text>
<line x1="1222" y1="2778.4" x2="1386.3" y2="2778.4" stroke-width="4"/>
<circle cx="1303.7" cy="2778.4" r="18.6" class="fm"/>
<line x1="1222" y1="2862.6" x2="1386.3" y2="2862.6" stroke-width="4"/>
<circle cx="1303.7" cy="2862.6" r="16.2" class="om"/>
<text x="1426" y="2803.7" font-size="72">L-DOPA+vehicle</text>
<text x="1426" y="2886.3" font-size="72">L-DOPA+simvastatin+fasudil</text>
<text x="346.5" y="3057" font-size="55" class="an">3 weeks</text>
<text transform="translate(647.5,3056.5) scale(1.15,1)" font-size="45" text-anchor="middle" class="hv">1st</text>
<text transform="translate(765.5,3056.5) scale(1.15,1)" font-size="45" text-anchor="middle" class="hv">3th</text>
<text transform="translate(936.5,3056.5) scale(1.15,1)" font-size="45" text-anchor="middle" class="hv">6th</text>
<text transform="translate(1126.5,3056.5) scale(1.15,1)" font-size="45" text-anchor="middle" class="hv">9th</text>
<text transform="translate(1242,3056.5) scale(1.15,1)" font-size="45" text-anchor="middle" class="hv">11th</text>
<text transform="translate(1412,3056.5) scale(1.15,1)" font-size="45" text-anchor="middle" class="hv">14th</text>
<text transform="translate(1581,3056.5) scale(1.15,1)" font-size="45" text-anchor="middle" class="hv">17th</text>
<text transform="translate(1701,3056.5) scale(1.15,1)" font-size="45" text-anchor="middle" class="hv">19th</text>
<text transform="translate(1824,3056.5) scale(1.15,1)" font-size="45" text-anchor="middle" class="hv">21th</text>
<text transform="translate(1969,3056.5) scale(1.15,1)" font-size="45" text-anchor="middle" class="hv">24th</text>
<text transform="translate(2156,3056.5) scale(1.15,1)" font-size="45" text-anchor="middle" class="hv">27th</text>
<text transform="translate(2325.3,3056.5) scale(1.15,1)" font-size="45" text-anchor="middle" class="hv">30th</text>
</g>
</svg>
</body>
</html>
